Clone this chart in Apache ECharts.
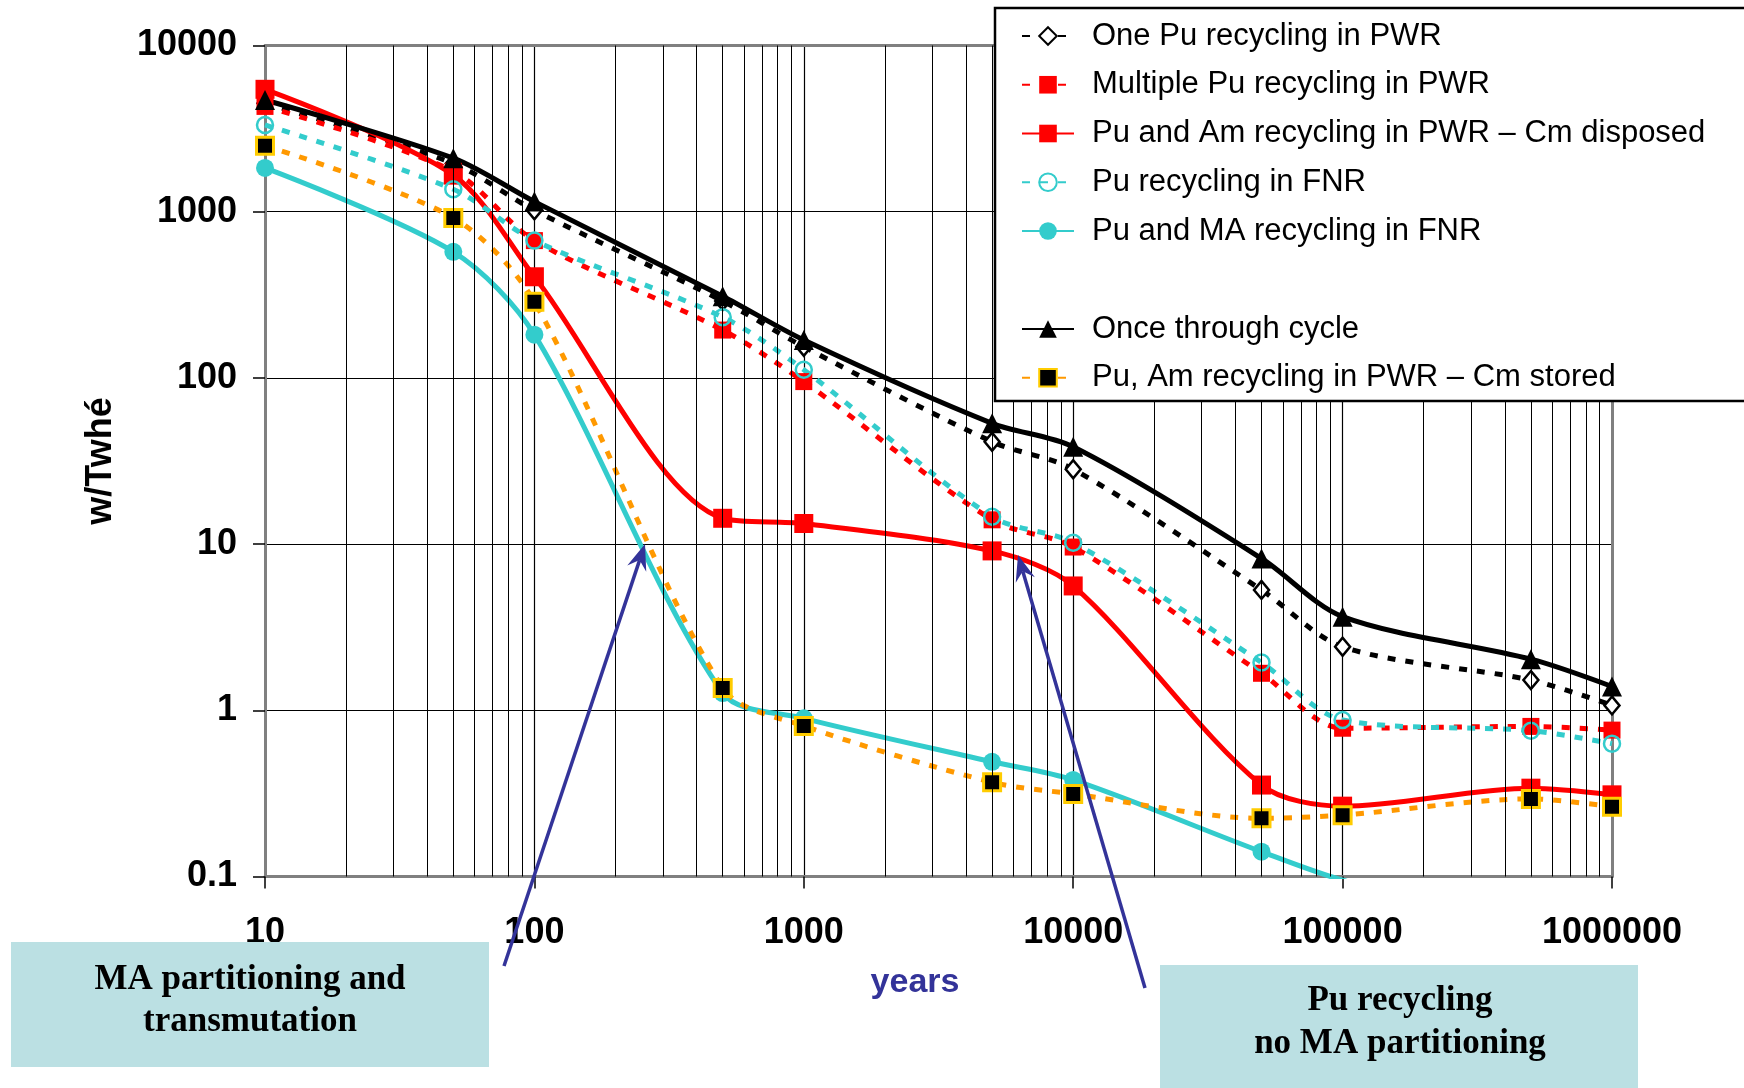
<!DOCTYPE html>
<html>
<head>
<meta charset="utf-8">
<script src="https://cdn.jsdelivr.net/npm/echarts@6/dist/echarts.min.js"></script>
<style>
html,body{margin:0;padding:0;background:#fff;}
#chart{width:1744px;height:1088px;}
</style>
</head>
<body>
<div id="chart"></div>
<script>
// ---- Data ----
const years = [10, 50, 100, 500, 1000, 5000, 10000, 50000, 100000, 500000, 1000000];
const onePuPWR          = [4500, 1950, 1020, 290, 154, 41.3, 28.2, 5.3, 2.41, 1.52, 1.07];
const multiPuPWR        = [4300, 1750, 670, 194, 95, 14.0, 9.6, 1.67, 0.78, 0.80, 0.76];
const puAmPWRCmDisposed = [5450, 1660, 406, 14.3, 13.3, 9.1, 5.6, 0.355, 0.265, 0.34, 0.31];
const puFNR             = [3325, 1364, 670, 232, 112, 14.6, 10.2, 1.94, 0.875, 0.754, 0.63];
const puMAFNR           = [1834, 574, 182, 1.27, 0.895, 0.49, 0.381, 0.141, 0.095, 0.05, 0.04];
const onceThrough       = [4700, 2100, 1150, 310, 169, 53.3, 38.5, 8.2, 3.66, 2.03, 1.39];
const puAmPWRCmStored   = [2495, 918, 287, 1.36, 0.805, 0.369, 0.314, 0.224, 0.234, 0.293, 0.263];

const seriesNames = [
  'One Pu recycling in PWR',
  'Multiple Pu recycling in PWR',
  'Pu and Am recycling in PWR \u2013 Cm disposed',
  'Pu recycling in FNR',
  'Pu and MA recycling in FNR',
  'Once through cycle',
  'Pu, Am recycling in PWR \u2013 Cm stored'
];
const xTickLabels = ['10', '100', '1000', '10000', '100000', '1000000'];
const yTickLabels = ['0.1', '1', '10', '100', '1000', '10000'];
const xAxisTitle = 'years';
const yAxisTitle = 'w/Twh\u00e9';
const note1 = ['MA partitioning and', 'transmutation'];
const note2 = ['Pu recycling', 'no MA partitioning'];

// minor vertical grid positions (2..9 x each decade)
const minorX = [];
for (let e = 1; e < 6; e++) for (let m = 2; m <= 9; m++) minorX.push(m * Math.pow(10, e));

const SANS = '"Liberation Sans", Arial, sans-serif';
const SERIF = '"Liberation Serif", "Times New Roman", serif';

function pairs(vals) { return years.map((x, i) => [x, vals[i]]); }

const chart = echarts.init(document.getElementById('chart'), null, {renderer: 'canvas'});

function mkSeries(name, vals, o) {
  return {
    name: name, type: 'line', data: pairs(vals), smooth: 0.3, z: o.z || 3,
    symbol: o.symbol, symbolSize: o.size,
    lineStyle: {color: o.lineColor, width: o.width, type: o.dash || 'solid', cap: 'butt'},
    itemStyle: {color: o.fill, borderColor: o.border || o.fill, borderWidth: o.bw || 0},
    emphasis: {disabled: true}
  };
}
const DOT = [8, 10];

const series = [
  {
    name: '__grid', type: 'line', data: [], z: 1, silent: true,
    markLine: {
      silent: true, symbol: ['none', 'none'], label: {show: false}, animation: false,
      lineStyle: {color: '#000', width: 1, type: 'solid'},
      emphasis: {disabled: true},
      data: minorX.map(v => ({xAxis: v}))
    }
  },
  mkSeries(seriesNames[0], onePuPWR, {symbol: 'diamond', size: [15, 18], lineColor: '#000', width: 5, dash: DOT, fill: '#fff', border: '#000', bw: 2.5}),
  mkSeries(seriesNames[1], multiPuPWR, {symbol: 'rect', size: 17, lineColor: '#ff0000', width: 5, dash: DOT, fill: '#ff0000'}),
  mkSeries(seriesNames[2], puAmPWRCmDisposed, {symbol: 'rect', size: 19, lineColor: '#ff0000', width: 5, fill: '#ff0000'}),
  mkSeries(seriesNames[3], puFNR, {symbol: 'circle', size: 16, lineColor: '#33cccc', width: 5, dash: DOT, fill: 'rgba(255,255,255,0)', border: '#33cccc', bw: 2.5}),
  mkSeries(seriesNames[4], puMAFNR, {symbol: 'circle', size: 18, lineColor: '#33cccc', width: 5, fill: '#33cccc'}),
  mkSeries(seriesNames[5], onceThrough, {symbol: 'triangle', size: 20, lineColor: '#000', width: 5, fill: '#000'}),
  mkSeries(seriesNames[6], puAmPWRCmStored, {symbol: 'rect', size: 17, lineColor: '#ff9900', width: 5, dash: DOT, fill: '#000', border: '#ffcc00', bw: 3})
];

function arrow(tail, tip, color) {
  const dx = tip[0] - tail[0], dy = tip[1] - tail[1];
  const L = Math.hypot(dx, dy), ux = dx / L, uy = dy / L, nx = -uy, ny = ux;
  const len = 26, hw = 10, notch = 17;
  return [
    {type: 'line', z: 6, silent: true, shape: {x1: tail[0], y1: tail[1], x2: tip[0] - ux * notch, y2: tip[1] - uy * notch}, style: {stroke: color, lineWidth: 3.5}},
    {type: 'polygon', z: 6, silent: true, shape: {points: [tip, [tip[0] - ux * len + nx * hw, tip[1] - uy * len + ny * hw], [tip[0] - ux * notch, tip[1] - uy * notch], [tip[0] - ux * len - nx * hw, tip[1] - uy * len - ny * hw]]}, style: {fill: color}}
  ];
}

const graphics = [
  // legend box
  {type: 'rect', z: 8, silent: true, shape: {x: 995, y: 8, width: 760, height: 393}, style: {fill: '#fff', stroke: '#000', lineWidth: 2.5}},
  // axis titles
  {type: 'text', z: 8, x: 101, y: 461, rotation: Math.PI / 2, style: {text: yAxisTitle, font: 'bold 36px ' + SANS, fill: '#000', textAlign: 'center', textVerticalAlign: 'middle'}},
  {type: 'text', z: 8, x: 915, y: 983, style: {text: xAxisTitle, font: 'bold 34px ' + SANS, fill: '#333399', textAlign: 'center', textVerticalAlign: 'middle'}},
  // note boxes
  {type: 'rect', z: 7, silent: true, shape: {x: 11, y: 942, width: 478, height: 125}, style: {fill: '#bbe0e3'}},
  {type: 'text', z: 8, x: 250, y: 980, style: {text: note1[0], font: 'bold 35px ' + SERIF, fill: '#000', textAlign: 'center', textVerticalAlign: 'middle'}},
  {type: 'text', z: 8, x: 250, y: 1022, style: {text: note1[1], font: 'bold 35px ' + SERIF, fill: '#000', textAlign: 'center', textVerticalAlign: 'middle'}},
  {type: 'rect', z: 7, silent: true, shape: {x: 1160, y: 965, width: 478, height: 130}, style: {fill: '#bbe0e3'}},
  {type: 'text', z: 8, x: 1400, y: 1001, style: {text: note2[0], font: 'bold 35px ' + SERIF, fill: '#000', textAlign: 'center', textVerticalAlign: 'middle'}},
  {type: 'text', z: 8, x: 1400, y: 1044, style: {text: note2[1], font: 'bold 35px ' + SERIF, fill: '#000', textAlign: 'center', textVerticalAlign: 'middle'}}
].concat(arrow([504, 966], [645, 544], '#333399')).concat(arrow([1145, 988], [1018, 555], '#333399'));

const legendCommon = {
  orient: 'vertical', left: 1021, padding: 0, itemWidth: 52, itemHeight: 22, itemGap: 17.75,
  z: 10, selectedMode: false, inactiveColor: '#000',
  textStyle: {fontSize: 31, lineHeight: 31, color: '#000', fontFamily: SANS, padding: [0, 0, 0, 13]}
};

const option = {
  animation: false,
  backgroundColor: '#fff',
  grid: {left: 265, top: 45.5, width: 1347, height: 831, containLabel: false},
  legend: [
    Object.assign({}, legendCommon, {top: 20.5, data: seriesNames.slice(0, 5)}),
    Object.assign({}, legendCommon, {top: 313.5, data: seriesNames.slice(5)})
  ],
  xAxis: [
    {
      type: 'log', logBase: 10, min: 10, max: 1000000, position: 'bottom', z: 2,
      axisLine: {show: true, lineStyle: {color: '#808080', width: 3}},
      axisTick: {show: true, inside: false, length: 12, lineStyle: {color: '#000', width: 1.5}},
      axisLabel: {show: true, margin: 39, fontSize: 36, fontWeight: 'bold', color: '#000', fontFamily: SANS,
        showMinLabel: true, showMaxLabel: true,
        formatter: v => xTickLabels[Math.round(Math.log10(v)) - 1]},
      splitLine: {show: true, lineStyle: {color: '#000', width: 1.2}},
      minorTick: {show: false}, minorSplitLine: {show: false}
    },
    {
      type: 'log', logBase: 10, min: 10, max: 1000000, position: 'top', z: 2,
      axisLine: {show: true, lineStyle: {color: '#808080', width: 3}},
      axisTick: {show: false}, axisLabel: {show: false}, splitLine: {show: false}
    }
  ],
  yAxis: [
    {
      type: 'log', logBase: 10, min: 0.1, max: 10000, position: 'left', z: 2,
      axisLine: {show: true, lineStyle: {color: '#808080', width: 3}},
      axisTick: {show: true, inside: false, length: 12, lineStyle: {color: '#000', width: 1.5}},
      axisLabel: {show: true, margin: 28, fontSize: 36, fontWeight: 'bold', color: '#000', fontFamily: SANS,
        showMinLabel: true, showMaxLabel: true,
        formatter: v => yTickLabels[Math.round(Math.log10(v)) + 1]},
      splitLine: {show: true, lineStyle: {color: '#000', width: 1.2}},
      minorTick: {show: false}, minorSplitLine: {show: false}
    },
    {
      type: 'log', logBase: 10, min: 0.1, max: 10000, position: 'right', z: 2,
      axisLine: {show: true, lineStyle: {color: '#808080', width: 3}},
      axisTick: {show: false}, axisLabel: {show: false}, splitLine: {show: false}
    }
  ],
  series: series,
  graphic: graphics
};
chart.setOption(option);
</script>
</body>
</html>
